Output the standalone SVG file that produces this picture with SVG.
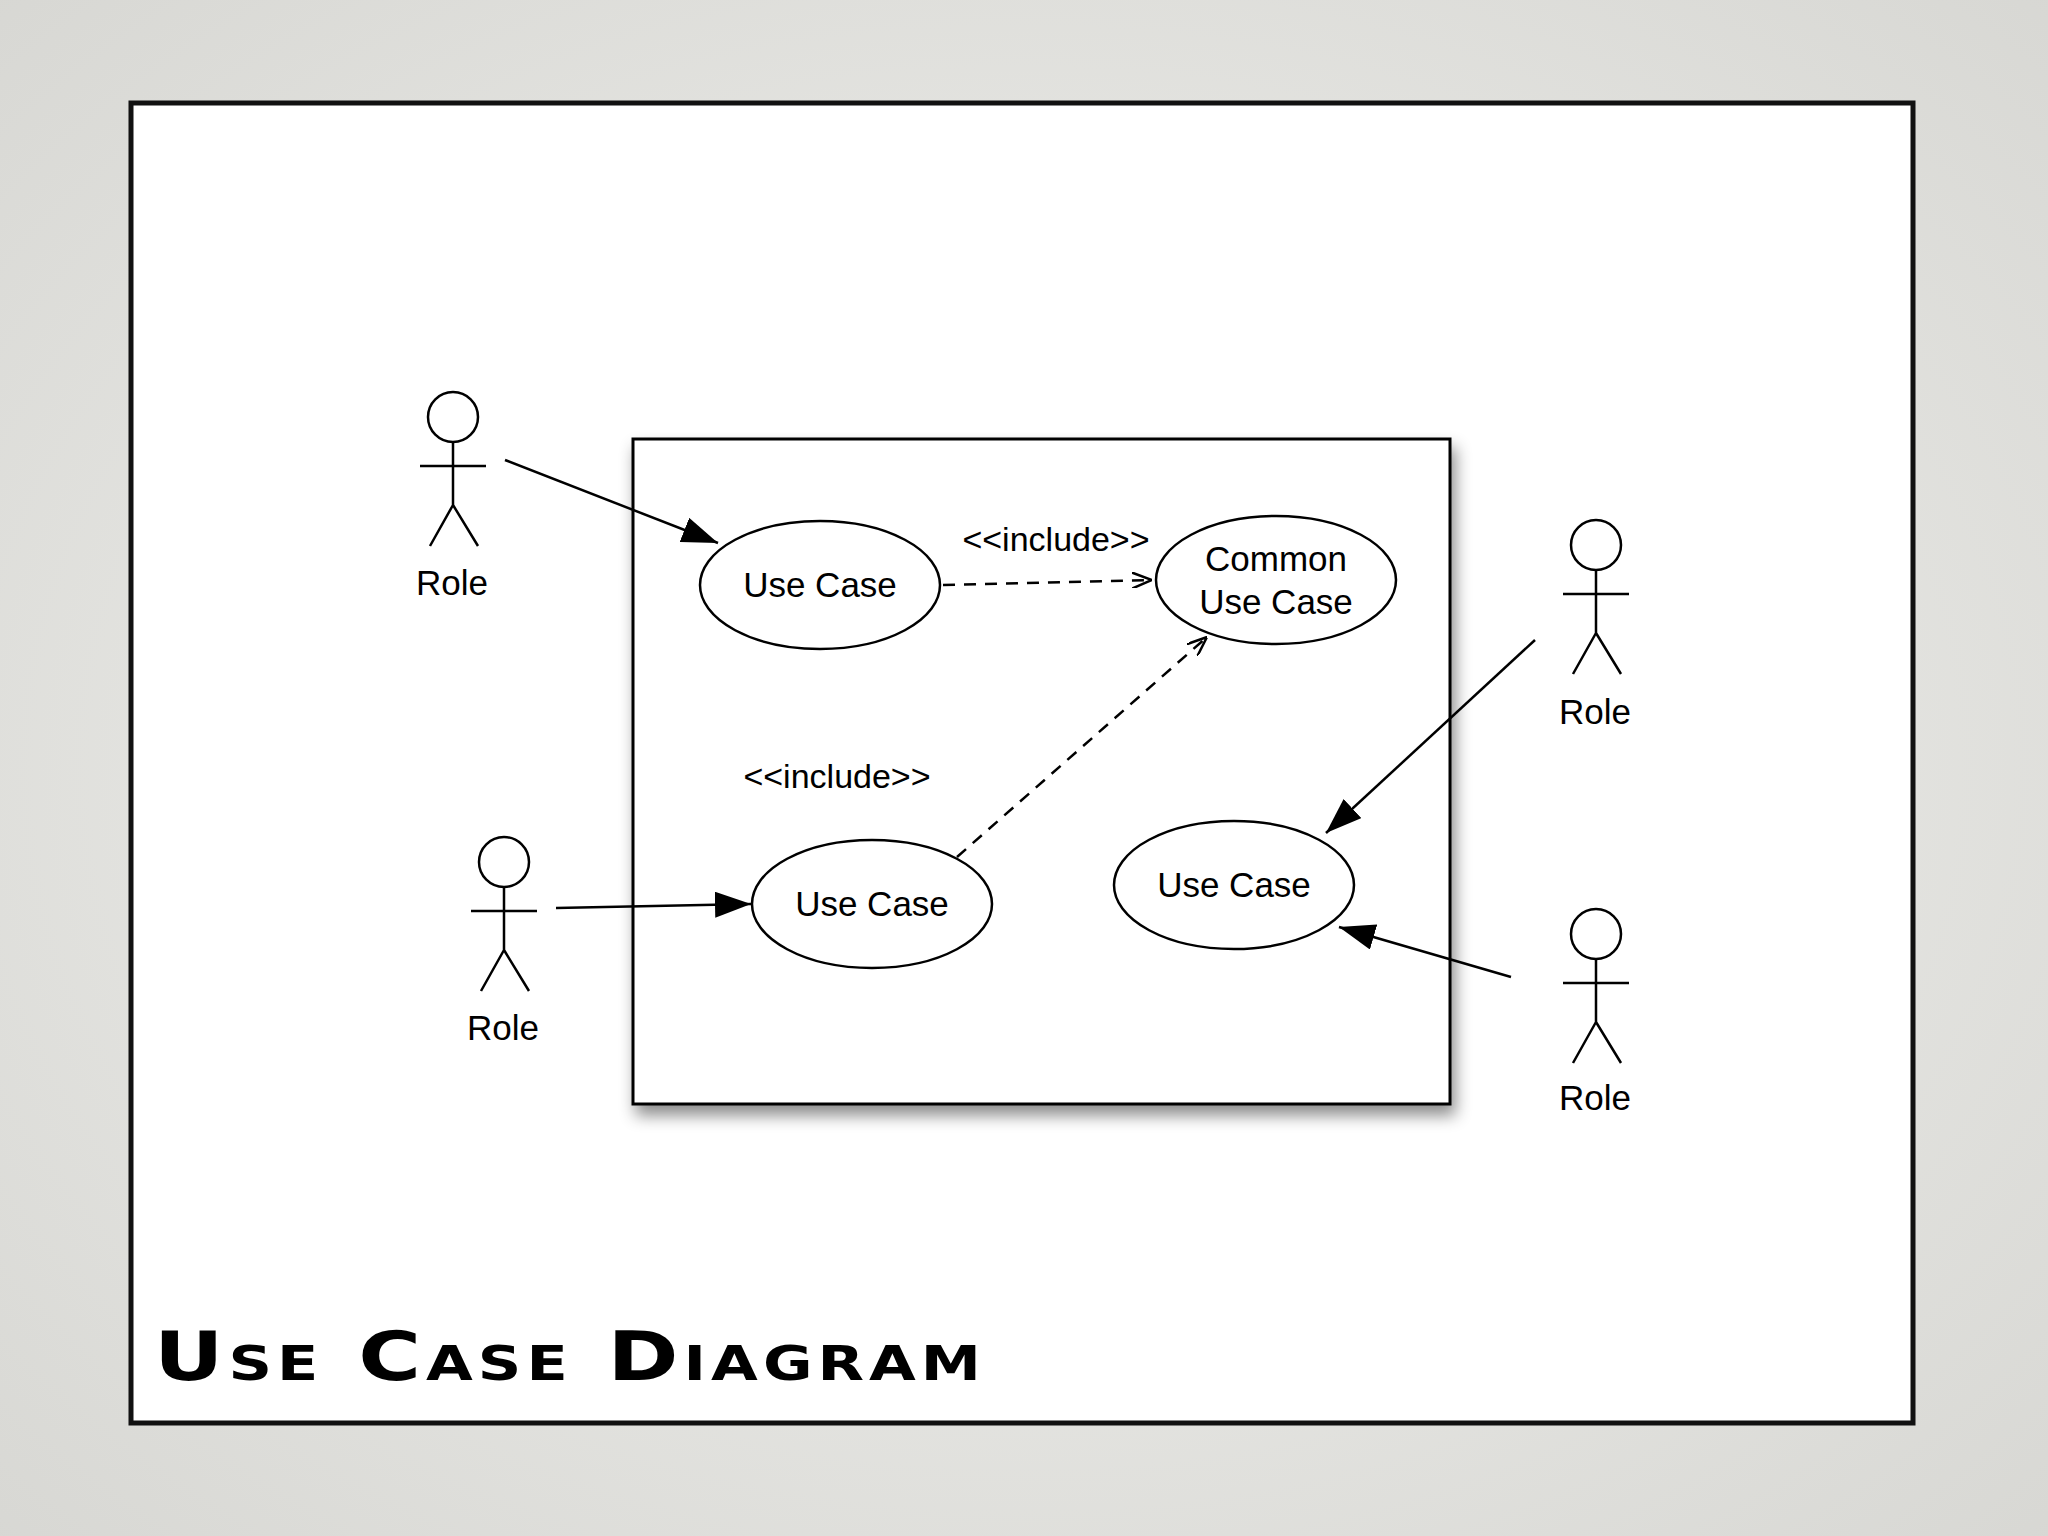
<svg xmlns="http://www.w3.org/2000/svg" width="2048" height="1536" viewBox="0 0 2048 1536">
<defs>
<radialGradient id="bg" cx="50%" cy="50%" r="75%"><stop offset="0" stop-color="#f2f2ef"/><stop offset="1" stop-color="#d6d6d2"/></radialGradient>
<filter id="sh" x="-10%" y="-10%" width="125%" height="125%"><feDropShadow dx="4" dy="10" stdDeviation="8" flood-opacity="0.45"/></filter>
<marker id="open" viewBox="0 0 20 16" refX="20" refY="8" markerWidth="20" markerHeight="16" markerUnits="userSpaceOnUse" orient="auto"><path d="M0,0 L20,8 L0,16" fill="none" stroke="#000" stroke-width="2.5"/></marker>
<marker id="fillA" viewBox="0 0 36 26" refX="36" refY="13" markerWidth="36" markerHeight="26" markerUnits="userSpaceOnUse" orient="auto"><path d="M0,0 L36,13 L0,26 z" fill="#000"/></marker>
</defs>
<style>
.t{font-family:"Liberation Sans",Arial,sans-serif;font-size:35px;fill:#000;text-anchor:middle}
.uc{fill:#fff;stroke:#000;stroke-width:2.5}
.act{fill:none;stroke:#000;stroke-width:2.5}
.ln{stroke:#000;stroke-width:2.5;fill:none}
.dash{stroke-dasharray:12 9}
</style>
<rect width="2048" height="1536" fill="url(#bg)"/>
<rect x="131" y="103" width="1782" height="1320" fill="#fff" stroke="#111" stroke-width="5"/>
<rect id="system" x="633" y="439" width="817" height="665" fill="#fff" stroke="#000" stroke-width="3" filter="url(#sh)"/>
<g id="uc1"><ellipse class="uc" cx="820" cy="585" rx="120" ry="64"/><text class="t" x="820" y="597">Use Case</text></g>
<g id="common"><ellipse class="uc" cx="1276" cy="580" rx="120" ry="64"/><text class="t" x="1276" y="571">Common</text><text class="t" x="1276" y="614">Use Case</text></g>
<g id="uc2"><ellipse class="uc" cx="872" cy="904" rx="120" ry="64"/><text class="t" x="872" y="916">Use Case</text></g>
<g id="uc3"><ellipse class="uc" cx="1234" cy="885" rx="120" ry="64"/><text class="t" x="1234" y="897">Use Case</text></g>
<g id="actor1" transform="translate(453,417)"><circle class="act" cx="0" cy="0" r="25"/><path class="act" d="M0,25 V88 M-33,49 H33 M0,88 L-23,129 M0,88 L25,129"/><text class="t" x="-1" y="178">Role</text></g>
<g id="actor2" transform="translate(504,862)"><circle class="act" cx="0" cy="0" r="25"/><path class="act" d="M0,25 V88 M-33,49 H33 M0,88 L-23,129 M0,88 L25,129"/><text class="t" x="-1" y="178">Role</text></g>
<g id="actor3" transform="translate(1596,545)"><circle class="act" cx="0" cy="0" r="25"/><path class="act" d="M0,25 V88 M-33,49 H33 M0,88 L-23,129 M0,88 L25,129"/><text class="t" x="-1" y="179">Role</text></g>
<g id="actor4" transform="translate(1596,934)"><circle class="act" cx="0" cy="0" r="25"/><path class="act" d="M0,25 V88 M-33,49 H33 M0,88 L-23,129 M0,88 L25,129"/><text class="t" x="-1" y="176">Role</text></g>
<g id="connectors">
<line class="ln" x1="505" y1="460" x2="718" y2="543" marker-end="url(#fillA)"/>
<line class="ln" x1="556" y1="908" x2="751" y2="904" marker-end="url(#fillA)"/>
<line class="ln" x1="1535" y1="640" x2="1326" y2="833" marker-end="url(#fillA)"/>
<line class="ln" x1="1511" y1="977" x2="1339" y2="927" marker-end="url(#fillA)"/>
<line class="ln dash" x1="943" y1="585" x2="1152" y2="580" marker-end="url(#open)"/>
<line class="ln dash" x1="957" y1="857" x2="1207" y2="637" marker-end="url(#open)"/>
<text class="t" x="1056" y="551" style="font-size:34px">&lt;&lt;include&gt;&gt;</text>
<text class="t" x="837" y="788" style="font-size:34px">&lt;&lt;include&gt;&gt;</text>
</g>
<text x="154" y="1380" style="font-family:'DejaVu Sans',sans-serif;font-weight:bold;font-size:68px;font-variant:small-caps;letter-spacing:4px" textLength="832" lengthAdjust="spacingAndGlyphs">Use Case Diagram</text>
</svg>
